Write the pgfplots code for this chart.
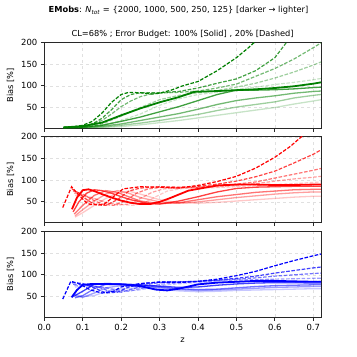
\documentclass[border=0pt]{standalone}
\usepackage{fontspec}
\setmainfont{DejaVu Sans}
\usepackage{pgfplots}
\pgfplotsset{compat=1.18}

\definecolor{mplgreen}{RGB}{0,128,0}
\definecolor{spine}{RGB}{40,40,40}

\pgfplotsset{
  panel/.style={
    scale only axis, width=276.7bp, height=85.8bp, anchor=south west,
    xmin=0, xmax=0.72, ymin=2, ymax=200,
    xtick={0,0.1,0.2,0.3,0.4,0.5,0.6,0.7}, ytick={50,100,150,200},
    grid=major, grid style={dashed, black!12, line width=0.5bp},
    tick align=outside, xtick pos=bottom, ytick pos=left,
    major tick length=3.5bp,
    axis line style={spine, line width=0.8bp},
    every tick/.style={spine, line width=0.8bp},
    tick label style={font=\fontsize{8.5}{10}\selectfont},
    label style={font=\fontsize{8.3}{10}\selectfont},
    /pgf/number format/assume math mode=true,
    ylabel={Bias [\%]},
  },
  notx/.style={xticklabel style={text opacity=0}},
  sol/.style={line width=1.3bp},
  sol1/.style={line width=1.8bp},
  dsh/.style={line width=1.2bp, dash pattern=on 3.6bp off 1.6bp},
  l1/.style={opacity=1},
  l2/.style={opacity=0.75},
  l3/.style={opacity=0.55},
  l4/.style={opacity=0.38},
  l5/.style={opacity=0.22},
}

\begin{document}
\begin{tikzpicture}
\useasboundingbox (0,0) rectangle (357bp,357bp);

\node[font=\fontsize{8.3}{10}\selectfont] at (178.5bp,346.3bp)
  {\textbf{EMobs}: \textit{N}\textsubscript{\textit{tot}} = \{2000, 1000, 500, 250, 125\} [darker → lighter]};
\node[font=\fontsize{8.3}{10}\selectfont] at (182.6bp,322.7bp)
  {CL=68\% ; Error Budget: 100\% [Solid] , 20\% [Dashed]};

% ---------------- green
\begin{axis}[panel, notx, at={(44.3bp,228.7bp)}]
\addplot[mplgreen, sol1, l1] coordinates {(0.05,4)(0.10,7)(0.15,15)(0.20,32)(0.25,48)(0.30,62)(0.35,74)(0.39,86)(0.45,88)(0.50,90)(0.55,92)(0.60,95)(0.65,99)(0.70,105)(0.72,108)};
\addplot[mplgreen, sol, l2] coordinates {(0.05,4)(0.10,5)(0.15,9)(0.20,18)(0.25,28)(0.30,40)(0.35,52)(0.40,66)(0.45,80)(0.50,90)(0.55,90)(0.60,91)(0.65,93)(0.70,96)(0.72,97)};
\addplot[mplgreen, sol, l3] coordinates {(0.05,3)(0.10,4)(0.15,7)(0.20,12)(0.25,20)(0.30,28)(0.35,36)(0.40,46)(0.45,57)(0.50,66)(0.55,72)(0.60,77)(0.65,83)(0.70,87)(0.72,88)};
\addplot[mplgreen, sol, l4] coordinates {(0.05,3)(0.10,4)(0.15,5)(0.20,9)(0.25,14)(0.30,20)(0.35,27)(0.40,34)(0.45,43)(0.50,51)(0.55,57)(0.60,63)(0.65,72)(0.70,78)(0.72,80)};
\addplot[mplgreen, sol, l5] coordinates {(0.05,3)(0.10,3)(0.15,4)(0.20,6)(0.25,10)(0.30,15)(0.35,20)(0.40,26)(0.45,32)(0.50,38)(0.55,44)(0.60,50)(0.65,58)(0.70,65)(0.72,68)};
\addplot[mplgreen, dsh, l1] coordinates {(0.05,4)(0.08,6)(0.10,9)(0.125,18)(0.15,37)(0.175,62)(0.20,80)(0.22,85)(0.25,84)(0.28,81)(0.30,83)(0.33,90)(0.36,100)(0.40,110)(0.45,135)(0.50,165)(0.53,187)(0.55,203)(0.58,230)};
\addplot[mplgreen, dsh, l2] coordinates {(0.05,4)(0.10,7)(0.125,12)(0.15,25)(0.175,45)(0.20,68)(0.225,80)(0.25,84)(0.30,84)(0.35,87)(0.40,95)(0.45,106)(0.50,116)(0.55,135)(0.60,165)(0.63,200)(0.66,230)};
\addplot[mplgreen, dsh, l3] coordinates {(0.05,4)(0.10,5)(0.15,20)(0.175,35)(0.20,52)(0.225,65)(0.25,75)(0.28,82)(0.32,84)(0.35,85)(0.40,88)(0.45,95)(0.50,104)(0.55,122)(0.60,140)(0.65,162)(0.70,188)(0.72,199)};
\addplot[mplgreen, dsh, l4] coordinates {(0.05,4)(0.10,5)(0.15,12)(0.20,30)(0.25,50)(0.30,68)(0.35,78)(0.40,84)(0.45,89)(0.50,97)(0.55,106)(0.60,118)(0.65,132)(0.70,148)(0.72,155)};
\addplot[mplgreen, dsh, l5] coordinates {(0.05,4)(0.10,4)(0.15,9)(0.20,20)(0.25,35)(0.30,55)(0.35,70)(0.40,80)(0.45,85)(0.50,92)(0.55,97)(0.60,103)(0.65,108)(0.70,114)(0.72,117)};
\end{axis}

% ---------------- red
\begin{axis}[panel, notx, at={(44.3bp,134.3bp)}]
\addplot[red, sol1, l1] coordinates {(0.072,33)(0.085,60)(0.10,77)(0.115,79)(0.13,75)(0.15,68)(0.175,60)(0.20,53)(0.225,48)(0.25,45)(0.275,45)(0.30,50)(0.325,58)(0.35,67)(0.375,76)(0.40,80)(0.45,88)(0.50,90)(0.55,90)(0.60,89)(0.65,89)(0.70,90)(0.72,90)};
\addplot[red, sol, l2] coordinates {(0.075,27)(0.09,50)(0.11,70)(0.13,78)(0.15,76)(0.175,70)(0.20,62)(0.225,55)(0.25,50)(0.275,46)(0.30,45)(0.35,52)(0.40,62)(0.45,73)(0.50,81)(0.55,84)(0.60,85)(0.65,86)(0.70,86)(0.72,86)};
\addplot[red, sol, l3] coordinates {(0.078,22)(0.10,42)(0.13,65)(0.16,76)(0.19,72)(0.225,60)(0.25,52)(0.30,46)(0.35,48)(0.40,55)(0.45,62)(0.50,67)(0.55,72)(0.60,75)(0.65,78)(0.70,79)(0.72,79)};
\addplot[red, sol, l4] coordinates {(0.08,18)(0.10,32)(0.13,52)(0.16,68)(0.19,76)(0.22,70)(0.25,60)(0.30,50)(0.35,47)(0.40,50)(0.45,55)(0.50,60)(0.55,64)(0.60,68)(0.65,71)(0.70,73)(0.72,73)};
\addplot[red, sol, l5] coordinates {(0.08,15)(0.10,25)(0.13,42)(0.16,58)(0.19,70)(0.22,75)(0.25,68)(0.30,55)(0.35,48)(0.40,47)(0.45,49)(0.50,52)(0.55,55)(0.60,58)(0.65,61)(0.70,63)(0.72,63)};
\addplot[red, dsh, l1] coordinates {(0.048,37)(0.071,85)(0.09,65)(0.11,48)(0.12,44)(0.155,44)(0.18,62)(0.205,80)(0.25,85)(0.30,84)(0.35,82)(0.40,88)(0.45,97)(0.50,109)(0.55,128)(0.60,153)(0.64,178)(0.67,201)(0.70,225)};
\addplot[red, dsh, l2] coordinates {(0.072,80)(0.09,70)(0.115,52)(0.135,43)(0.16,42)(0.19,55)(0.22,75)(0.25,82)(0.30,85)(0.35,84)(0.40,86)(0.45,91)(0.50,98)(0.55,108)(0.60,121)(0.65,140)(0.70,160)(0.72,170)};
\addplot[red, dsh, l3] coordinates {(0.075,75)(0.10,68)(0.125,55)(0.15,45)(0.18,42)(0.21,52)(0.24,70)(0.27,80)(0.30,83)(0.35,83)(0.40,84)(0.45,87)(0.50,91)(0.55,96)(0.60,105)(0.65,114)(0.70,123)(0.72,127)};
\addplot[red, dsh, l4] coordinates {(0.078,70)(0.10,66)(0.13,58)(0.16,48)(0.19,43)(0.22,45)(0.25,58)(0.28,72)(0.31,80)(0.35,82)(0.40,83)(0.45,85)(0.50,88)(0.55,92)(0.60,98)(0.65,103)(0.70,107)(0.72,109)};
\addplot[red, dsh, l5] coordinates {(0.08,65)(0.11,62)(0.14,55)(0.17,48)(0.20,44)(0.23,42)(0.26,48)(0.29,62)(0.32,75)(0.36,81)(0.40,82)(0.45,83)(0.50,85)(0.55,88)(0.60,90)(0.65,92)(0.70,95)(0.72,96)};
\end{axis}

% ---------------- blue
\begin{axis}[panel, at={(44.3bp,39.7bp)}, xlabel={z},
  xticklabel style={/pgf/number format/.cd, fixed, fixed zerofill, precision=1}]
\addplot[blue, sol1, l1] coordinates {(0.071,48)(0.085,65)(0.10,77)(0.125,79)(0.15,79)(0.20,78)(0.25,74)(0.29,66)(0.32,64)(0.35,68)(0.40,78)(0.45,82)(0.50,84)(0.55,86)(0.60,86)(0.65,85)(0.70,84)(0.72,84)};
\addplot[blue, sol, l2] coordinates {(0.075,50)(0.10,62)(0.13,78)(0.16,80)(0.20,79)(0.25,77)(0.30,74)(0.35,71)(0.40,72)(0.45,76)(0.50,79)(0.55,81)(0.60,82)(0.65,82)(0.70,81)(0.72,81)};
\addplot[blue, sol, l3] coordinates {(0.08,47)(0.10,52)(0.13,68)(0.16,78)(0.20,78)(0.25,76)(0.30,72)(0.35,68)(0.40,66)(0.45,67)(0.50,70)(0.55,73)(0.60,75)(0.65,76)(0.70,77)(0.72,77)};
\addplot[blue, sol, l4] coordinates {(0.08,52)(0.10,48)(0.13,58)(0.16,70)(0.20,75)(0.25,73)(0.30,70)(0.35,66)(0.40,64)(0.45,65)(0.50,67)(0.55,69)(0.60,71)(0.65,72)(0.70,73)(0.72,73)};
\addplot[blue, sol, l5] coordinates {(0.08,55)(0.10,50)(0.13,52)(0.16,62)(0.20,68)(0.25,70)(0.30,67)(0.35,63)(0.40,61)(0.45,62)(0.50,64)(0.55,65)(0.60,66)(0.65,67)(0.70,68)(0.72,68)};
\addplot[blue, dsh, l1] coordinates {(0.048,44)(0.069,85)(0.09,80)(0.12,65)(0.15,58)(0.18,62)(0.20,72)(0.25,80)(0.30,83)(0.35,82)(0.40,85)(0.45,90)(0.50,98)(0.55,108)(0.60,121)(0.65,133)(0.70,144)(0.72,148)};
\addplot[blue, dsh, l2] coordinates {(0.072,82)(0.10,80)(0.13,70)(0.16,58)(0.19,60)(0.22,72)(0.26,80)(0.30,84)(0.35,84)(0.40,85)(0.45,88)(0.50,92)(0.55,97)(0.60,104)(0.65,110)(0.70,116)(0.72,118)};
\addplot[blue, dsh, l3] coordinates {(0.075,78)(0.10,78)(0.14,72)(0.17,62)(0.20,60)(0.24,70)(0.28,80)(0.32,83)(0.40,85)(0.50,90)(0.55,93)(0.60,97)(0.65,100)(0.70,103)(0.72,104)};
\addplot[blue, dsh, l4] coordinates {(0.078,75)(0.11,76)(0.15,72)(0.19,64)(0.22,62)(0.26,70)(0.30,78)(0.35,82)(0.40,84)(0.50,88)(0.60,90)(0.65,91)(0.70,92)(0.72,92)};
\addplot[blue, dsh, l5] coordinates {(0.08,72)(0.12,74)(0.16,70)(0.20,65)(0.24,64)(0.28,70)(0.32,77)(0.36,80)(0.40,82)(0.50,83)(0.60,84)(0.70,85)(0.72,85)};
\end{axis}
\end{tikzpicture}
\end{document}
